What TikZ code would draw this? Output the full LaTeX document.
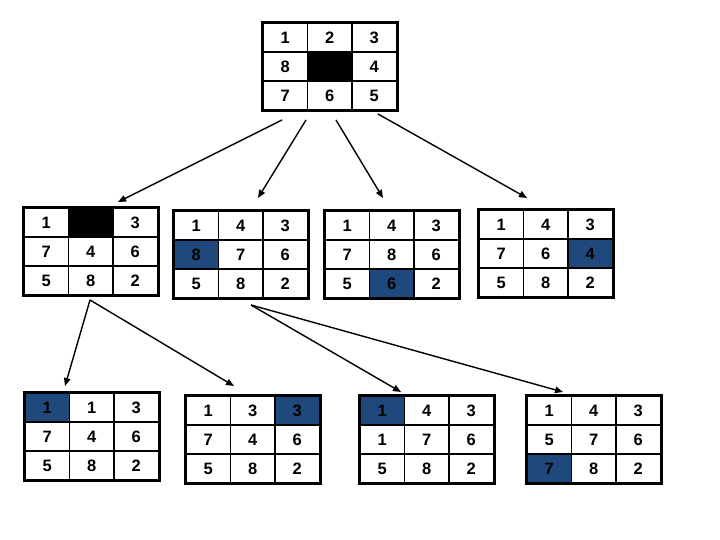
\documentclass[tikz,border=0pt]{standalone}
\usepackage{fontspec}
\setmainfont{Liberation Sans}
\usetikzlibrary{arrows.meta}
\definecolor{tileblue}{RGB}{31,73,125}
\tikzset{
  cell/.style={draw=black, line width=1.6pt, minimum width=44.5pt, minimum height=29pt, inner sep=0pt, font=\fontsize{16.5}{16.5}\selectfont\bfseries},
  frame/.style={draw=black, line width=2.4pt},
  link/.style={draw=black, line width=1.4pt, -{Triangle[length=8pt,width=6.5pt]}},
}
\newcommand\puzzle[6]{%
  \foreach \v [count=\i from 0] in {#4} {
    \pgfmathtruncatemacro\rr{div(\i,3)}
    \pgfmathtruncatemacro\cc{mod(\i,3)}
    \ifnum\i=#5 \def\fc{tileblue}\else\ifnum\i=#6 \def\fc{black}\else\def\fc{white}\fi\fi
    \node[cell, fill=\fc] (#1-\i) at ({#2+\cc*44.5+22.25},{#3+\rr*29+14.5}) {\v};
  }
  \draw[frame] (#1-0.north west) rectangle (#1-8.south east);
}
\begin{document}
\begin{tikzpicture}[x=1pt,y=-1pt]
\fill[white] (0,0) rectangle (720,540);
\useasboundingbox (0,0) rectangle (720,540);
\puzzle{T}{263}{23}{1,2,3,8,{},4,7,6,5}{-1}{4}
\puzzle{A}{24}{208}{1,{},3,7,4,6,5,8,2}{-1}{1}
\puzzle{B}{174}{211}{1,4,3,8,7,6,5,8,2}{3}{-1}
\puzzle{C}{325}{211}{1,4,3,7,8,6,5,6,2}{7}{-1}
\puzzle{D}{479}{210}{1,4,3,7,6,4,5,8,2}{5}{-1}
\puzzle{E}{25}{393}{1,1,3,7,4,6,5,8,2}{0}{-1}
\puzzle{F}{186}{396}{1,3,3,7,4,6,5,8,2}{2}{-1}
\puzzle{G}{360}{396}{1,4,3,1,7,6,5,8,2}{0}{-1}
\puzzle{H}{527}{396}{1,4,3,5,7,6,7,8,2}{6}{-1}
% arrow end points
\coordinate (t1) at (282,120);
\coordinate (t2) at (306,120);
\coordinate (t3) at (336,120);
\coordinate (t4) at (378,114);
\coordinate (aA) at (118,202);
\coordinate (aB) at (258,198);
\coordinate (aC) at (383,198);
\coordinate (aD) at (527,198);
\coordinate (sA) at (90,300);
\coordinate (sB) at (251,305);
\coordinate (aE) at (65,386);
\coordinate (aF) at (234,386);
\coordinate (aG) at (401,392);
\coordinate (aH) at (563,392);
\draw[link] (t1) -- (aA);
\draw[link] (t2) -- (aB);
\draw[link] (t3) -- (aC);
\draw[link] (t4) -- (aD);
\draw[link] (sA) -- (aE);
\draw[link] (sA) -- (aF);
\draw[link] (sB) -- (aG);
\draw[link] (sB) -- (aH);
\end{tikzpicture}
\end{document}
